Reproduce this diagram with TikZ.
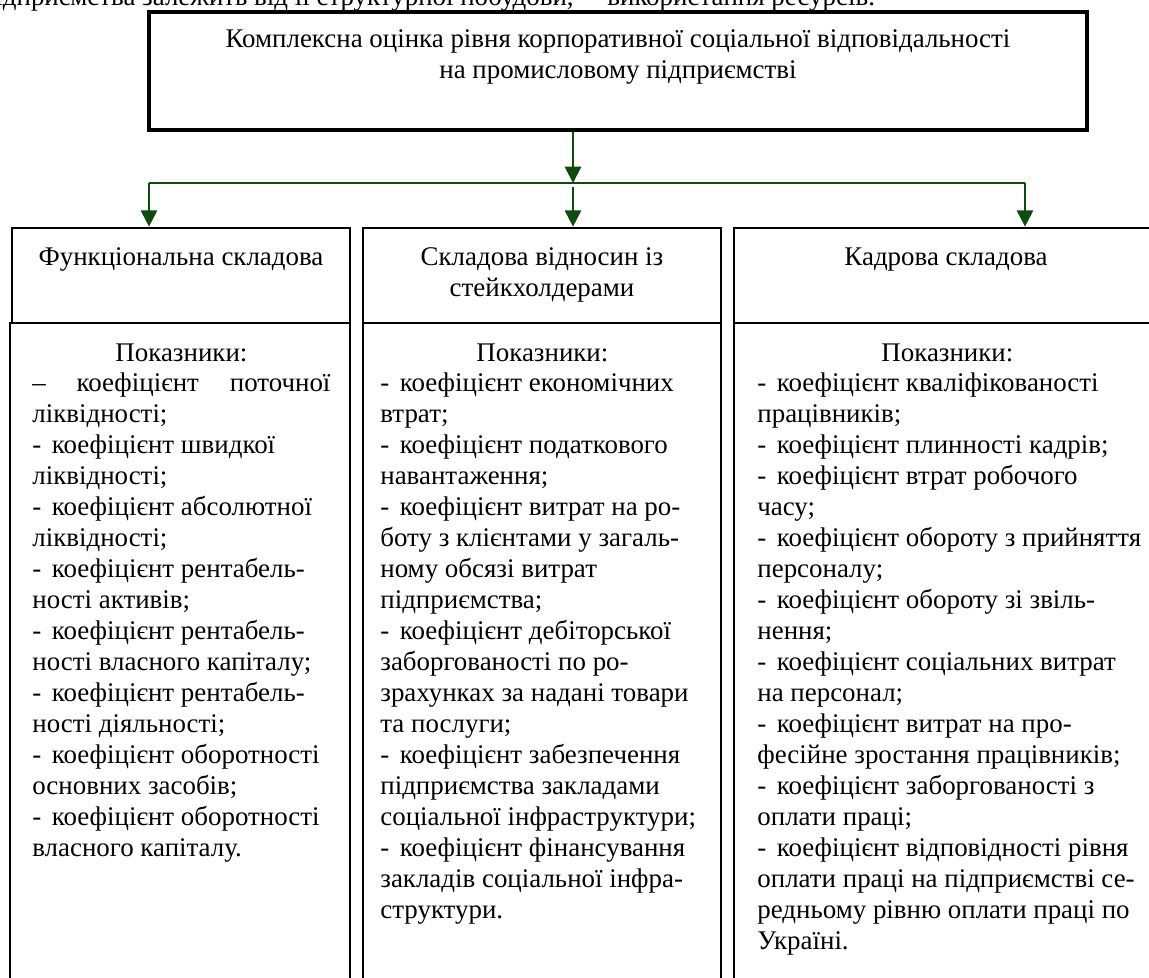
\documentclass[tikz,border=0pt]{standalone}
\usepackage{fontspec}
\setmainfont{Liberation Serif}
\usepackage{tikz}
\usetikzlibrary{arrows.meta, calc}

\definecolor{arrowgreen}{RGB}{16,74,16}
\newcommand{\ditem}{-\hspace{5.5pt}}

\begin{document}
\begin{tikzpicture}[x=0.52pt, y=-0.52pt,
    every node/.style={font=\fontsize{14pt}{16.1pt}\selectfont, inner sep=0pt},
    topbox/.style={draw, line width=2.1pt, minimum width=487.8pt, minimum height=61.4pt},
    headbox/.style={draw, line width=1.4pt, minimum height=49.4pt},
    bodybox/.style={draw, line width=1.4pt, minimum height=346.8pt},
    link/.style={draw=arrowgreen, line width=1.1pt},
    flow/.style={link, -{Triangle[length=8.5pt, width=8.5pt]}},
    list/.style={anchor=north west, align=left}]

    % Fix the frame of the picture
    \useasboundingbox (0,0) rectangle (1149,978);
    \clip (0,0) rectangle (1149,978);

    % Page text above the scheme (cut off)
    \node[anchor=base east] (pagetext) at (574,6) {підприємства залежить від її структурної побудови,};
    \node[anchor=base west] (pagetextend) at (607,6) {використання ресурсів.};

    % Draw the top box
    \node[topbox] (main) at (618,71) {};
    \node[anchor=north, align=center] (maintitle) at (618,29)
        {Комплексна оцінка рівня корпоративної соціальної відповідальності\\
         на промисловому підприємстві};

    % Draw the three component boxes
    \node[headbox, minimum width=175.76pt] (func) at (181,275.5) {};
    \node[headbox, minimum width=186.16pt] (rel) at (542,275.5) {};
    \node[headbox, minimum width=220.48pt] (hr) at (946,275.5) {};
    \node[anchor=north, align=center] (functitle) at (181,247) {Функціональна складова};
    \node[anchor=north, align=center] (reltitle) at (542,247) {Складова відносин із\\стейкхолдерами};
    \node[anchor=north, align=center] (hrtitle) at (946,247) {Кадрова складова};

    % Draw the boxes with the indicators
    \node[bodybox, minimum width=176.8pt] (funcbody) at (180,656.5) {};
    \node[bodybox, minimum width=186.16pt] (relbody) at (542,656.5) {};
    \node[bodybox, minimum width=220.48pt] (hrbody) at (946,656.5) {};

    % Lists of indicators
    \node[list] (funclist) at (32,343) {%
        \hbox to 155pt{\hfil Показники:\hfil}\\
        \hbox to 155pt{–\hfil коефіцієнт\hfil поточної}\\
        ліквідності;\\
        \ditem коефіцієнт швидкої\\
        ліквідності;\\
        \ditem коефіцієнт абсолютної\\
        ліквідності;\\
        \ditem коефіцієнт рентабель-\\
        ності активів;\\
        \ditem коефіцієнт рентабель-\\
        ності власного капіталу;\\
        \ditem коефіцієнт рентабель-\\
        ності діяльності;\\
        \ditem коефіцієнт оборотності\\
        основних засобів;\\
        \ditem коефіцієнт оборотності\\
        власного капіталу.};
    \node[list] (rellist) at (380,343) {%
        \hbox to 168.5pt{\hfil Показники:\hfil}\\
        \ditem коефіцієнт економічних\\
        втрат;\\
        \ditem коефіцієнт податкового\\
        навантаження;\\
        \ditem коефіцієнт витрат на ро-\\
        боту з клієнтами у загаль-\\
        ному обсязі витрат\\
        підприємства;\\
        \ditem коефіцієнт дебіторської\\
        заборгованості по ро-\\
        зрахунках за надані товари\\
        та послуги;\\
        \ditem коефіцієнт забезпечення\\
        підприємства закладами\\
        соціальної інфраструктури;\\
        \ditem коефіцієнт фінансування\\
        закладів соціальної інфра-\\
        структури.};
    \node[list] (hrlist) at (757,343) {%
        \hbox to 197.6pt{\hfil Показники:\hfil}\\
        \ditem коефіцієнт кваліфікованості\\
        працівників;\\
        \ditem коефіцієнт плинності кадрів;\\
        \ditem коефіцієнт втрат робочого\\
        часу;\\
        \ditem коефіцієнт обороту з прийняття\\
        персоналу;\\
        \ditem коефіцієнт обороту зі звіль-\\
        нення;\\
        \ditem коефіцієнт соціальних витрат\\
        на персонал;\\
        \ditem коефіцієнт витрат на про-\\
        фесійне зростання працівників;\\
        \ditem коефіцієнт заборгованості з\\
        оплати праці;\\
        \ditem коефіцієнт відповідності рівня\\
        оплати праці на підприємстві се-\\
        редньому рівню оплати праці по\\
        Україні.};

    % Draw the arrows from the top box to the components
    \coordinate (split) at (573,183);
    \coordinate (splitL) at (149,183);
    \coordinate (splitR) at (1025,183);
    \draw[flow] (main.south -| split) -- (split);
    \draw[link] (splitL) -- (splitR);
    \draw[flow] (splitL) -- (splitL |- func.north);
    \draw[flow] ([yshift=-2pt]split) -- (split |- rel.north);
    \draw[flow] (splitR) -- (splitR |- hr.north);

\end{tikzpicture}
\end{document}
